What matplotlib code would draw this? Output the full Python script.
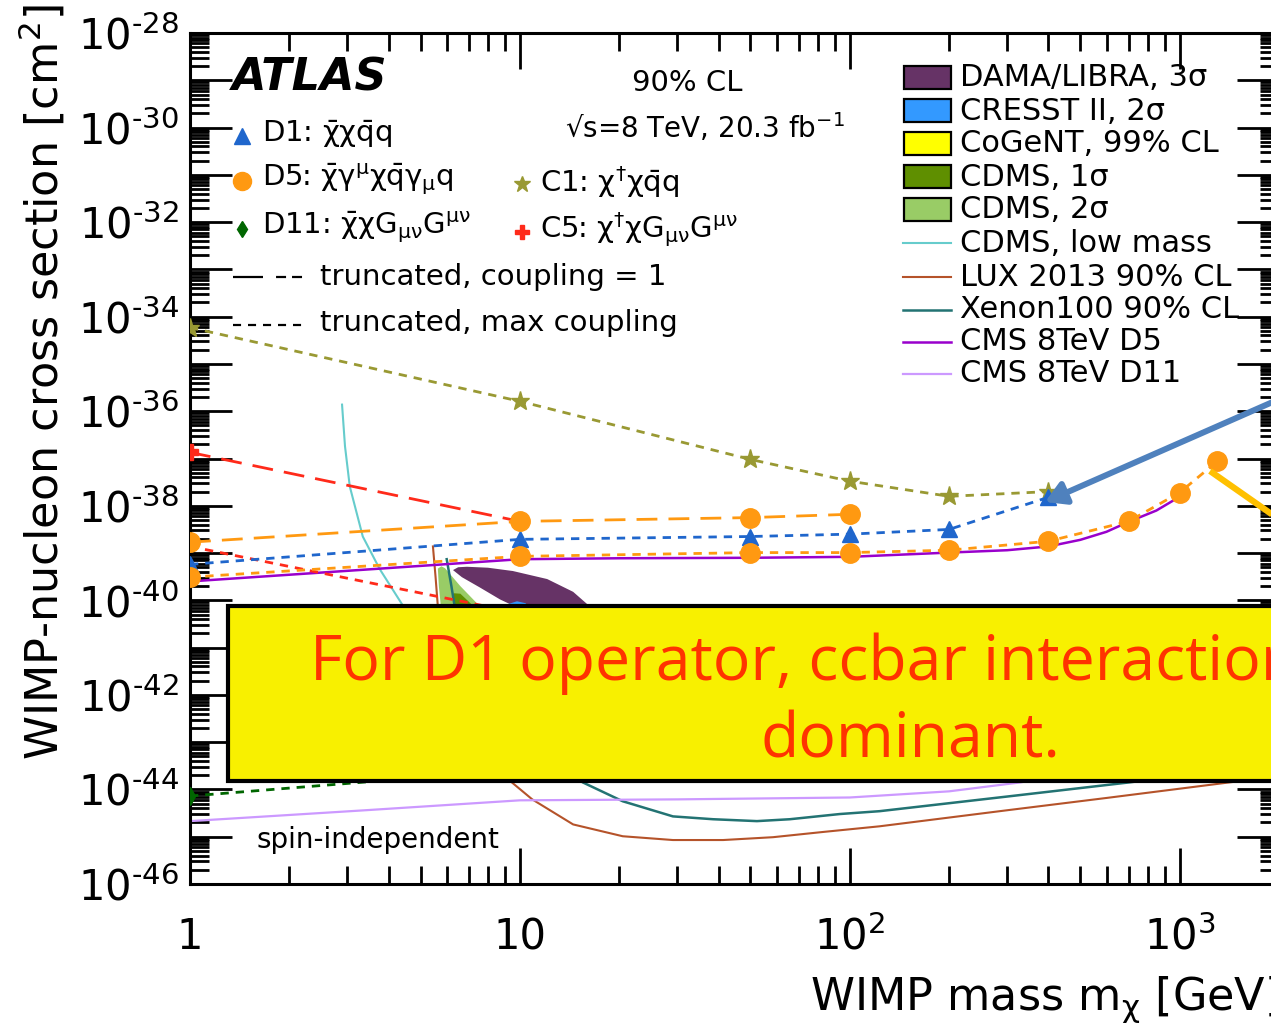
import matplotlib.pyplot as plt
import numpy as np
from matplotlib.lines import Line2D
from matplotlib.patches import Rectangle, FancyArrowPatch
from matplotlib.ticker import FixedLocator, LogLocator, NullFormatter

plt.rcParams['mathtext.default'] = 'regular'
plt.rcParams['lines.scale_dashes'] = False

W, H = 1271, 1030

# ---- collider limits: WIMP mass [GeV] and log10(sigma / cm^2) ----
c1_mass = [1, 10, 50, 100, 200, 400]
c1_max = [-34.23, -35.79, -37.02, -37.48, -37.80, -37.70]

d1_mass = [1, 10, 50, 100, 200, 400]
d1_max = [-39.24, -38.71, -38.65, -38.60, -38.50, -37.82]

d5_mass_g1 = [1, 10, 50, 100]
d5_g1 = [-38.77, -38.33, -38.25, -38.18]

d5_mass = [1, 10, 50, 100, 200, 400, 700, 1000, 1300]
d5_max = [-39.51, -39.07, -38.99, -38.99, -38.94, -38.75, -38.33, -37.72, -37.06]

c5_mass = [1, 10]
c5_g1 = [-36.87, -38.33]
c5_max = [-38.86, -40.27]

d11_mass = [1, 10]
d11_max = [-44.14, -43.58]

cms_d5_mass = [1, 10, 20, 50, 100, 200, 300, 400, 500, 600, 700, 850, 950]
cms_d5 = [-39.60, -39.13, -39.11, -39.10, -39.08, -38.99, -38.94, -38.86, -38.72,
          -38.55, -38.34, -38.10, -37.90]

cms_d11_mass = [1, 2, 3.4, 10, 30, 100, 200, 330, 600]
cms_d11 = [-44.67, -44.54, -44.44, -44.23, -44.21, -44.17, -44.04, -43.85, -43.50]

# ---- direct detection ----
lux_mass = [5.45, 5.55, 5.65, 6, 7, 8, 9.45, 10.9, 14.5, 20.5, 29.1, 41.3, 58.5,
            82.8, 123, 300, 600, 1418, 2000]
lux = [-38.86, -39.5, -40.2, -41.3, -42.6, -43.3, -43.85, -44.21, -44.74, -44.99,
       -45.07, -45.07, -45.01, -44.90, -44.78, -44.44, -44.18, -43.85, -43.72]

xe_mass = [6.0, 6.2, 6.4, 7, 8, 10, 12.5, 15.5, 20.5, 29.1, 38.5, 52.3, 65.8, 93.3,
           123, 300, 705, 2000]
xe = [-39.13, -39.7, -40.3, -41.0, -41.8, -42.7, -43.4, -43.85, -44.25, -44.57,
      -44.63, -44.67, -44.63, -44.52, -44.46, -44.15, -43.85, -43.45]

cdms_lm_mass = [2.89, 2.95, 3.05, 3.34, 3.76, 4.39, 5.5, 7.0]
cdms_lm = [-35.86, -36.74, -37.59, -38.65, -39.34, -40.08, -40.9, -41.5]

# signal regions (closed contours)
dama_mass = [6.27, 6.5, 6.91, 8.0, 9.52, 12.1, 14.5, 16.3, 17.8, 18.5, 17.0, 14.0,
             11.0, 9.33, 8.7, 7.57, 6.67]
dama = [-39.36, -39.30, -39.29, -39.31, -39.38, -39.55, -39.82, -40.13, -40.6,
        -41.1, -41.5, -41.6, -41.2, -40.08, -39.98, -39.73, -39.51]

cdms2_mass = [5.64, 5.78, 5.93, 6.6, 7.57, 9.5, 8.0, 6.5, 5.9, 5.76, 5.68]
cdms2 = [-39.33, -39.28, -39.32, -39.70, -40.13, -40.9, -41.3, -41.2, -40.8,
         -40.13, -39.7]

cdms1_mass = [6.3, 6.6, 7.3, 8.2, 7.0, 6.3]
cdms1 = [-39.85, -39.86, -40.15, -40.7, -40.9, -40.4]

cresst_mass = [9.2, 9.8, 10.4, 11.5, 12.0, 10.0, 8.8]
cresst = [-40.08, -40.02, -40.06, -40.4, -41.0, -41.3, -40.6]

legend_names = ['DAMA/LIBRA, 3σ', 'CRESST II, 2σ', 'CoGeNT, 99% CL', 'CDMS, 1σ',
                'CDMS, 2σ', 'CDMS, low mass', 'LUX 2013 90% CL', 'Xenon100 90% CL',
                'CMS 8TeV D5', 'CMS 8TeV D11']

xticks = [1, 10, 100, 1000]
xtick_labels = ['1', '10', '$10^{2}$', '$10^{3}$']
y_exp = np.arange(-46, -27)

C_OLIVE, C_BLUE, C_ORANGE = '#999933', '#1F66CC', '#FF9911'
C_RED, C_GREEN = '#FF2A1A', '#006600'
C_DAMA, C_CRESST, C_COGENT = '#663366', '#3399FF', '#FFFF00'
C_CDMS1, C_CDMS2, C_CDMSLM = '#5F8F00', '#99CC66', '#66CCCC'
C_LUX, C_XE, C_CMS5, C_CMS11 = '#B5532A', '#237373', '#9900CC', '#CC99FF'

SHORT = (6, 5)
LONG = (15, 8)


def fx(px):
    return px / W


def fy(py):
    return 1 - py / H


def sig(v):
    return 10.0 ** np.asarray(v)


fig = plt.figure(figsize=(W / 100, H / 100), dpi=100)
ax = fig.add_axes([fx(190), fy(884), (1279 - 190) / W, (884 - 33) / H])
ax.set_xscale('log')
ax.set_yscale('log')
ax.set_xlim(1, 2000)
ax.set_ylim(1e-46, 1e-28)

# regions
ax.fill(cdms2_mass, sig(cdms2), color=C_CDMS2, lw=0, zorder=1)
ax.fill(cdms1_mass, sig(cdms1), color=C_CDMS1, lw=0, zorder=1.1)
ax.fill(dama_mass, sig(dama), color=C_DAMA, lw=0, zorder=1.2)
ax.fill(cresst_mass, sig(cresst), color=C_CRESST, lw=0, zorder=1.3)

# direct detection limits
ax.plot(cdms_lm_mass, sig(cdms_lm), color=C_CDMSLM, lw=1.5, zorder=2)
ax.plot(lux_mass, sig(lux), color=C_LUX, lw=1.5, zorder=2)
ax.plot(xe_mass, sig(xe), color=C_XE, lw=1.8, zorder=2)
ax.plot(cms_d11_mass, sig(cms_d11), color=C_CMS11, lw=1.6, zorder=2)
ax.plot(cms_d5_mass, sig(cms_d5), color=C_CMS5, lw=1.8, zorder=2)

# ATLAS truncated limits
ax.plot(c1_mass, sig(c1_max), color=C_OLIVE, lw=2, dashes=SHORT, zorder=3,
        marker='*', ms=14, mec=C_OLIVE)
ax.plot(c5_mass, sig(c5_g1), color=C_RED, lw=2, dashes=LONG, zorder=3,
        marker='P', ms=11, mec=C_RED)
ax.plot(c5_mass, sig(c5_max), color=C_RED, lw=2, dashes=SHORT, zorder=3)
ax.plot(d11_mass, sig(d11_max), color=C_GREEN, lw=2, dashes=SHORT, zorder=3,
        marker='d', ms=9, mec=C_GREEN)
ax.plot(d1_mass, sig(d1_max), color=C_BLUE, lw=2, dashes=SHORT, zorder=3,
        marker='^', ms=12, mec=C_BLUE)
ax.plot(d5_mass_g1, sig(d5_g1), color=C_ORANGE, lw=2, dashes=LONG, zorder=3,
        marker='o', ms=14, mec=C_ORANGE)
ax.plot(d5_mass, sig(d5_max), color=C_ORANGE, lw=2, dashes=SHORT, zorder=3,
        marker='o', ms=14, mec=C_ORANGE)

# axes and ticks
ax.xaxis.set_major_locator(FixedLocator(xticks))
ax.set_xticklabels(xtick_labels)
ax.xaxis.set_minor_locator(LogLocator(base=10, subs=np.arange(2, 10), numticks=50))
ax.xaxis.set_minor_formatter(NullFormatter())
ax.yaxis.set_major_locator(FixedLocator(10.0 ** y_exp))
ax.set_yticklabels([f'$10^{{\u2010{-e}}}$' if e % 2 == 0 else '' for e in y_exp])
ax.yaxis.set_minor_locator(LogLocator(base=10, subs=np.arange(2, 10), numticks=200))
ax.yaxis.set_minor_formatter(NullFormatter())

ax.tick_params(which='both', direction='in', top=True, right=True, width=2)
ax.tick_params(axis='y', which='major', length=30, labelsize=30, pad=8)
ax.tick_params(axis='y', which='minor', length=14)
ax.tick_params(axis='x', which='major', length=26, labelsize=30, pad=47)
ax.tick_params(axis='x', which='minor', length=13)
for t in ax.xaxis.get_major_ticks():
    t.label1.set_verticalalignment('baseline')
for s in ax.spines.values():
    s.set_linewidth(2.2)

fig.text(fx(42), fy(4), 'WIMP-nucleon cross section [cm$^{2}$]', rotation=90,
         ha='center', va='top', fontsize=32)
fig.text(fx(810), fy(1010), r'WIMP mass m$_{\chi}$ [GeV]', fontsize=32,
         ha='left', va='baseline')

# left legend block
fig.text(fx(232), fy(78), 'ATLAS', fontsize=32, fontweight='bold', style='italic',
         ha='left', va='center')
fig.text(fx(687), fy(83), '90% CL', fontsize=21, ha='center', va='center')
fig.text(fx(565), fy(128), '√s=8 TeV, 20.3 fb$^{-1}$', fontsize=20,
         ha='left', va='center')

marker_rows = [
    (242, 136, '^', 12, C_BLUE, r'D1: $\bar{\chi}\chi\bar{q}q$', 262),
    (242, 181, 'o', 13, C_ORANGE, r'D5: $\bar{\chi}\gamma^{\mu}\chi\bar{q}\gamma_{\mu}q$', 262),
    (242, 229, 'd', 8, C_GREEN, r'D11: $\bar{\chi}\chi G_{\mu\nu}G^{\mu\nu}$', 262),
    (522, 184, '*', 12, C_OLIVE, r'C1: $\chi^{\dagger}\chi\bar{q}q$', 540),
    (522, 232, 'P', 10, C_RED, r'C5: $\chi^{\dagger}\chi G_{\mu\nu}G^{\mu\nu}$', 540),
]
for mx, my, mk, ms, col, lab, tx in marker_rows:
    fig.add_artist(Line2D([fx(mx)], [fy(my)], marker=mk, ms=ms, color=col,
                          mec=col, ls='none', transform=fig.transFigure))
    fig.text(fx(tx), fy(my - 2), lab, fontsize=21, ha='left', va='center')

fig.add_artist(Line2D([fx(233), fx(303)], [fy(277), fy(277)], color='black', lw=1.6,
                      dashes=(21.6, 9.4, 7.2, 4.3, 7.2, 60), transform=fig.transFigure))
fig.text(fx(320), fy(277), 'truncated, coupling = 1', fontsize=21, ha='left', va='center')
fig.add_artist(Line2D([fx(233), fx(305)], [fy(325), fy(325)], color='black', lw=1.6,
                      dashes=(5.8, 5), transform=fig.transFigure))
fig.text(fx(320), fy(323), 'truncated, max coupling', fontsize=21, ha='left', va='center')

fig.text(fx(257), fy(840), 'spin-independent', fontsize=20, ha='left', va='center')

# right legend block
legend_rows = [78, 111, 144, 177, 210, 243, 277, 310, 342, 374]
legend_fill = [C_DAMA, C_CRESST, C_COGENT, C_CDMS1, C_CDMS2]
legend_line = [(C_CDMSLM, 1.5), (C_LUX, 1.5), (C_XE, 1.8), (C_CMS5, 1.8), (C_CMS11, 1.6)]
for i, (name, ry) in enumerate(zip(legend_names, legend_rows)):
    if i < len(legend_fill):
        fig.add_artist(Rectangle((fx(904), fy(ry + 11)), 47 / W, 23 / H,
                                 facecolor=legend_fill[i], edgecolor='black', lw=1.6,
                                 transform=fig.transFigure))
    else:
        col, lw = legend_line[i - len(legend_fill)]
        fig.add_artist(Line2D([fx(903), fx(951)], [fy(ry), fy(ry)], color=col, lw=lw,
                              transform=fig.transFigure))
    fig.text(fx(960), fy(ry), name, fontsize=22, ha='left', va='center')

# callouts
fig.add_artist(FancyArrowPatch((fx(1300), fy(390)), (fx(1045), fy(502)),
                               transform=fig.transFigure, color='#4F81BD', lw=4.3,
                               arrowstyle='-|>,head_length=0.6,head_width=0.35',
                               mutation_scale=20, shrinkA=0, shrinkB=0, zorder=4))
fig.add_artist(Line2D([fx(1210), fx(1300)], [fy(471), fy(534)], color='#FFC000',
                      lw=4.5, solid_capstyle='butt', transform=fig.transFigure, zorder=4))

fig.add_artist(Rectangle((fx(228), fy(781)), (1320 - 228) / W, (781 - 606) / H,
                         facecolor='#F8F000', edgecolor='black', lw=3,
                         transform=fig.transFigure, zorder=5))
fig.text(fx(310), fy(680), 'For D1 operator, ccbar interaction', fontsize=45,
         family='Open Sans', color='#FF3300', ha='left', va='baseline', zorder=6)
fig.text(fx(910), fy(757), 'dominant.', fontsize=45, family='Open Sans',
         color='#FF3300', ha='center', va='baseline', zorder=6)

fig.savefig('out.png', dpi=100)
